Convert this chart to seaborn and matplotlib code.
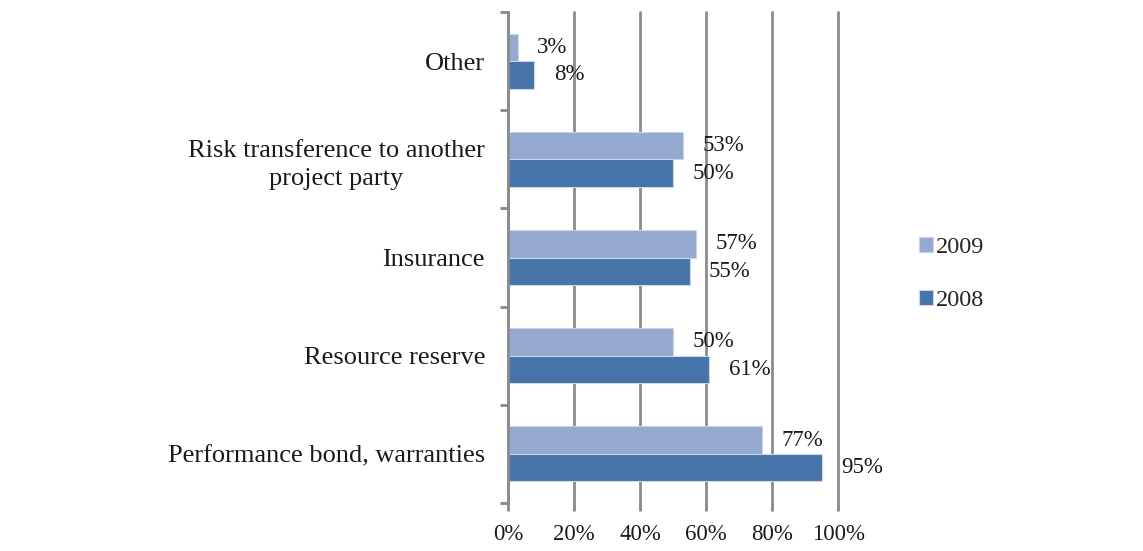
import pandas as pd
import matplotlib.pyplot as plt
import seaborn as sns
from matplotlib.ticker import FixedLocator

# data
categories = ['Other', 'Risk transference to another\nproject party', 'Insurance',
              'Resource reserve', 'Performance bond, warranties']
years = ['2009', '2008']
values_2009 = [3, 53, 57, 50, 77]
values_2008 = [8, 50, 55, 61, 95]
x_ticks = [0, 20, 40, 60, 80, 100]

df = pd.DataFrame({
    'category': categories * 2,
    'year': ['2009'] * len(categories) + ['2008'] * len(categories),
    'value': values_2009 + values_2008,
})

sns.set_theme(style='white')
plt.rcParams['font.family'] = ['Liberation Serif', 'DejaVu Serif']

fig = plt.figure(figsize=(11.43, 5.51), dpi=100)
ax = fig.add_axes([0.4444, 0.0871, 0.2888, 0.8911])

palette = {'2009': '#95A9D1', '2008': '#4673A8'}
sns.barplot(data=df, y='category', x='value', hue='year', order=categories,
            hue_order=years, palette=palette, orient='h', width=0.56, gap=0,
            edgecolor='#C9D6EA', linewidth=0.8, saturation=1, ax=ax)

for cont in ax.containers:
    ax.bar_label(cont, fmt='{:.0f}%', padding=14, fontsize=16.5, color='#1a1a1a')

ax.set_xlim(0, 100)
ax.set_ylim(len(categories) - 0.5, -0.5)
ax.set_xticks(x_ticks)
ax.set_xticklabels([f'{t}%' for t in x_ticks], fontsize=16.5, color='#1a1a1a')
ax.tick_params(axis='y', which='major', length=0, pad=16.5, labelsize=19, labelcolor='#1a1a1a')
ax.yaxis.set_minor_locator(FixedLocator([i - 0.5 for i in range(len(categories) + 1)]))
ax.tick_params(axis='y', which='minor', left=True, length=6, width=2, color='#888888')
ax.tick_params(axis='x', bottom=True, length=6, width=2, color='#888888', pad=9)
for lbl in ax.get_yticklabels():
    lbl.set_multialignment('center')
    lbl.set_linespacing(1.35)
ax.set_xlabel('')
ax.set_ylabel('')

ax.grid(axis='x', color='#8C8C8C', linewidth=2)
for gl in ax.get_xgridlines():
    gl.set_clip_on(False)
ax.set_axisbelow(True)
for side in ['top', 'right', 'bottom']:
    ax.spines[side].set_visible(False)
ax.spines['left'].set_color('#8C8C8C')
ax.spines['left'].set_linewidth(2)

handles, labels = ax.get_legend_handles_labels()
ax.legend(handles, labels, loc='center left', bbox_to_anchor=(1.178, 0.467), frameon=False,
          fontsize=17.5, handlelength=0.6, handleheight=0.6, handletextpad=0.1, labelspacing=1.3)

plt.savefig('out.png', dpi=100)
